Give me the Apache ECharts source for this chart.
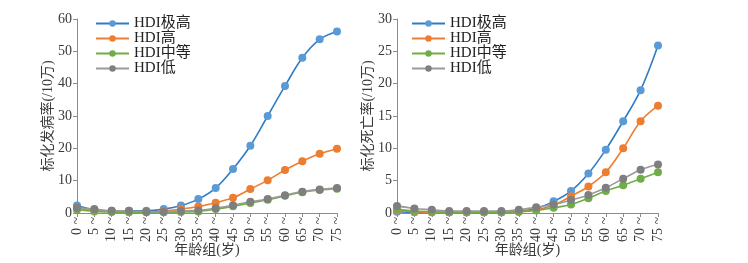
<!DOCTYPE html>
<html>
<head>
<meta charset="utf-8">
<script src="https://cdn.jsdelivr.net/npm/echarts@6/dist/echarts.min.js"></script>
<style>
  html, body { margin: 0; padding: 0; background: #fff; }
  #chart { width: 748px; height: 263px; }
</style>
</head>
<body>
<div id="chart"></div>
<script>
// age groups
const ageGroups = ['0 ~', '5 ~', '10 ~', '15 ~', '20 ~', '25 ~', '30 ~', '35 ~', '40 ~', '45 ~', '50 ~', '55 ~', '60 ~', '65 ~', '70 ~', '75 ~'];
const seriesNames = ['HDI极高', 'HDI高', 'HDI中等', 'HDI低'];

// incidence (per 100k)
const incVeryHigh = [2.3, 1.0, 0.7, 0.7, 0.7, 1.2, 2.3, 4.3, 7.7, 13.6, 20.8, 30.0, 39.3, 48.0, 53.7, 56.1];
const incHigh = [1.5, 0.8, 0.5, 0.4, 0.3, 0.6, 1.2, 2.0, 3.2, 4.7, 7.4, 10.1, 13.3, 16.0, 18.3, 19.9];
const incMedium = [1.0, 0.5, 0.3, 0.2, 0.2, 0.2, 0.3, 0.5, 1.2, 2.1, 3.1, 4.1, 5.3, 6.4, 7.1, 7.5];
const incLow = [1.6, 1.2, 0.7, 0.7, 0.4, 0.4, 0.6, 0.8, 1.5, 2.4, 3.5, 4.3, 5.5, 6.6, 7.3, 7.7];

// mortality (per 100k)
const morVeryHigh = [0.2, 0.1, 0.1, 0.1, 0.1, 0.1, 0.1, 0.3, 0.7, 1.8, 3.4, 6.1, 9.8, 14.2, 19.0, 25.9];
const morHigh = [0.4, 0.2, 0.1, 0.1, 0.1, 0.1, 0.1, 0.2, 0.5, 1.2, 2.6, 4.1, 6.3, 10.0, 14.2, 16.6];
const morMedium = [0.6, 0.3, 0.2, 0.1, 0.1, 0.1, 0.1, 0.2, 0.4, 0.8, 1.3, 2.3, 3.4, 4.3, 5.3, 6.3];
const morLow = [1.1, 0.7, 0.5, 0.3, 0.3, 0.3, 0.3, 0.5, 0.9, 1.3, 2.0, 2.8, 3.9, 5.3, 6.7, 7.5];

const lineColors = ['#2f7cc6', '#ed7d31', '#70ad47', '#9a9a9a'];
const markerColors = ['#5b9bd5', '#ed7d31', '#70ad47', '#7f7f7f'];
const FONT = '"Liberation Serif", "Noto Sans CJK SC", serif';
const axisGray = '#8c8c8c';
const textColor = '#3a3a3a';

const chart = echarts.init(document.getElementById('chart'), null, { renderer: 'canvas' });

function xAxisFor(gridIndex) {
  return {
    type: 'category', gridIndex, data: ageGroups, boundaryGap: false,
    name: '年龄组(岁)', nameLocation: 'middle', nameGap: 30, nameMoveOverlap: false,
    nameTextStyle: { fontFamily: FONT, fontSize: 14, color: textColor },
    axisLine: { lineStyle: { color: axisGray } },
    axisTick: { length: 4, alignWithLabel: true, lineStyle: { color: axisGray } },
    axisLabel: { rotate: 90, interval: 0, margin: 4, fontFamily: FONT, fontSize: 14, color: textColor }
  };
}

function yAxisFor(gridIndex, max, interval, name) {
  return {
    type: 'value', gridIndex, min: 0, max, interval,
    name, nameLocation: 'middle', nameGap: 22, nameMoveOverlap: false,
    nameTextStyle: { fontFamily: FONT, fontSize: 14, color: textColor },
    axisLine: { show: true, lineStyle: { color: axisGray } },
    axisTick: { show: true, length: 4, lineStyle: { color: axisGray } },
    splitLine: { show: false },
    axisLabel: { margin: 5, fontFamily: FONT, fontSize: 14, color: textColor }
  };
}

function legendFor(left) {
  return {
    orient: 'vertical', left, top: 11, itemWidth: 33, itemHeight: 8, itemGap: 0,
    data: seriesNames,
    textStyle: { fontFamily: FONT, fontSize: 15, color: '#222', lineHeight: 14.5 }
  };
}

function lineSeries(idx, data, axisIndex) {
  return {
    name: seriesNames[idx], type: 'line', data,
    xAxisIndex: axisIndex, yAxisIndex: axisIndex,
    smooth: 0.35, symbol: 'circle', symbolSize: 8,
    lineStyle: { width: 1.6, color: lineColors[idx] },
    itemStyle: { color: markerColors[idx] }
  };
}

const incidence = [incVeryHigh, incHigh, incMedium, incLow];
const mortality = [morVeryHigh, morHigh, morMedium, morLow];

const option = {
  animation: false,
  backgroundColor: '#fff',
  grid: [
    { left: 77, top: 19, width: 260, height: 194, outerBoundsMode: 'none' },
    { left: 397, top: 19, width: 261, height: 194, outerBoundsMode: 'none' }
  ],
  legend: [legendFor(90), legendFor(406)],
  xAxis: [xAxisFor(0), xAxisFor(1)],
  yAxis: [yAxisFor(0, 60, 10, '标化发病率(/10万)'), yAxisFor(1, 30, 5, '标化死亡率(/10万)')],
  series: [
    ...incidence.map((d, i) => lineSeries(i, d, 0)),
    ...mortality.map((d, i) => lineSeries(i, d, 1))
  ]
};

chart.setOption(option);
</script>
</body>
</html>
